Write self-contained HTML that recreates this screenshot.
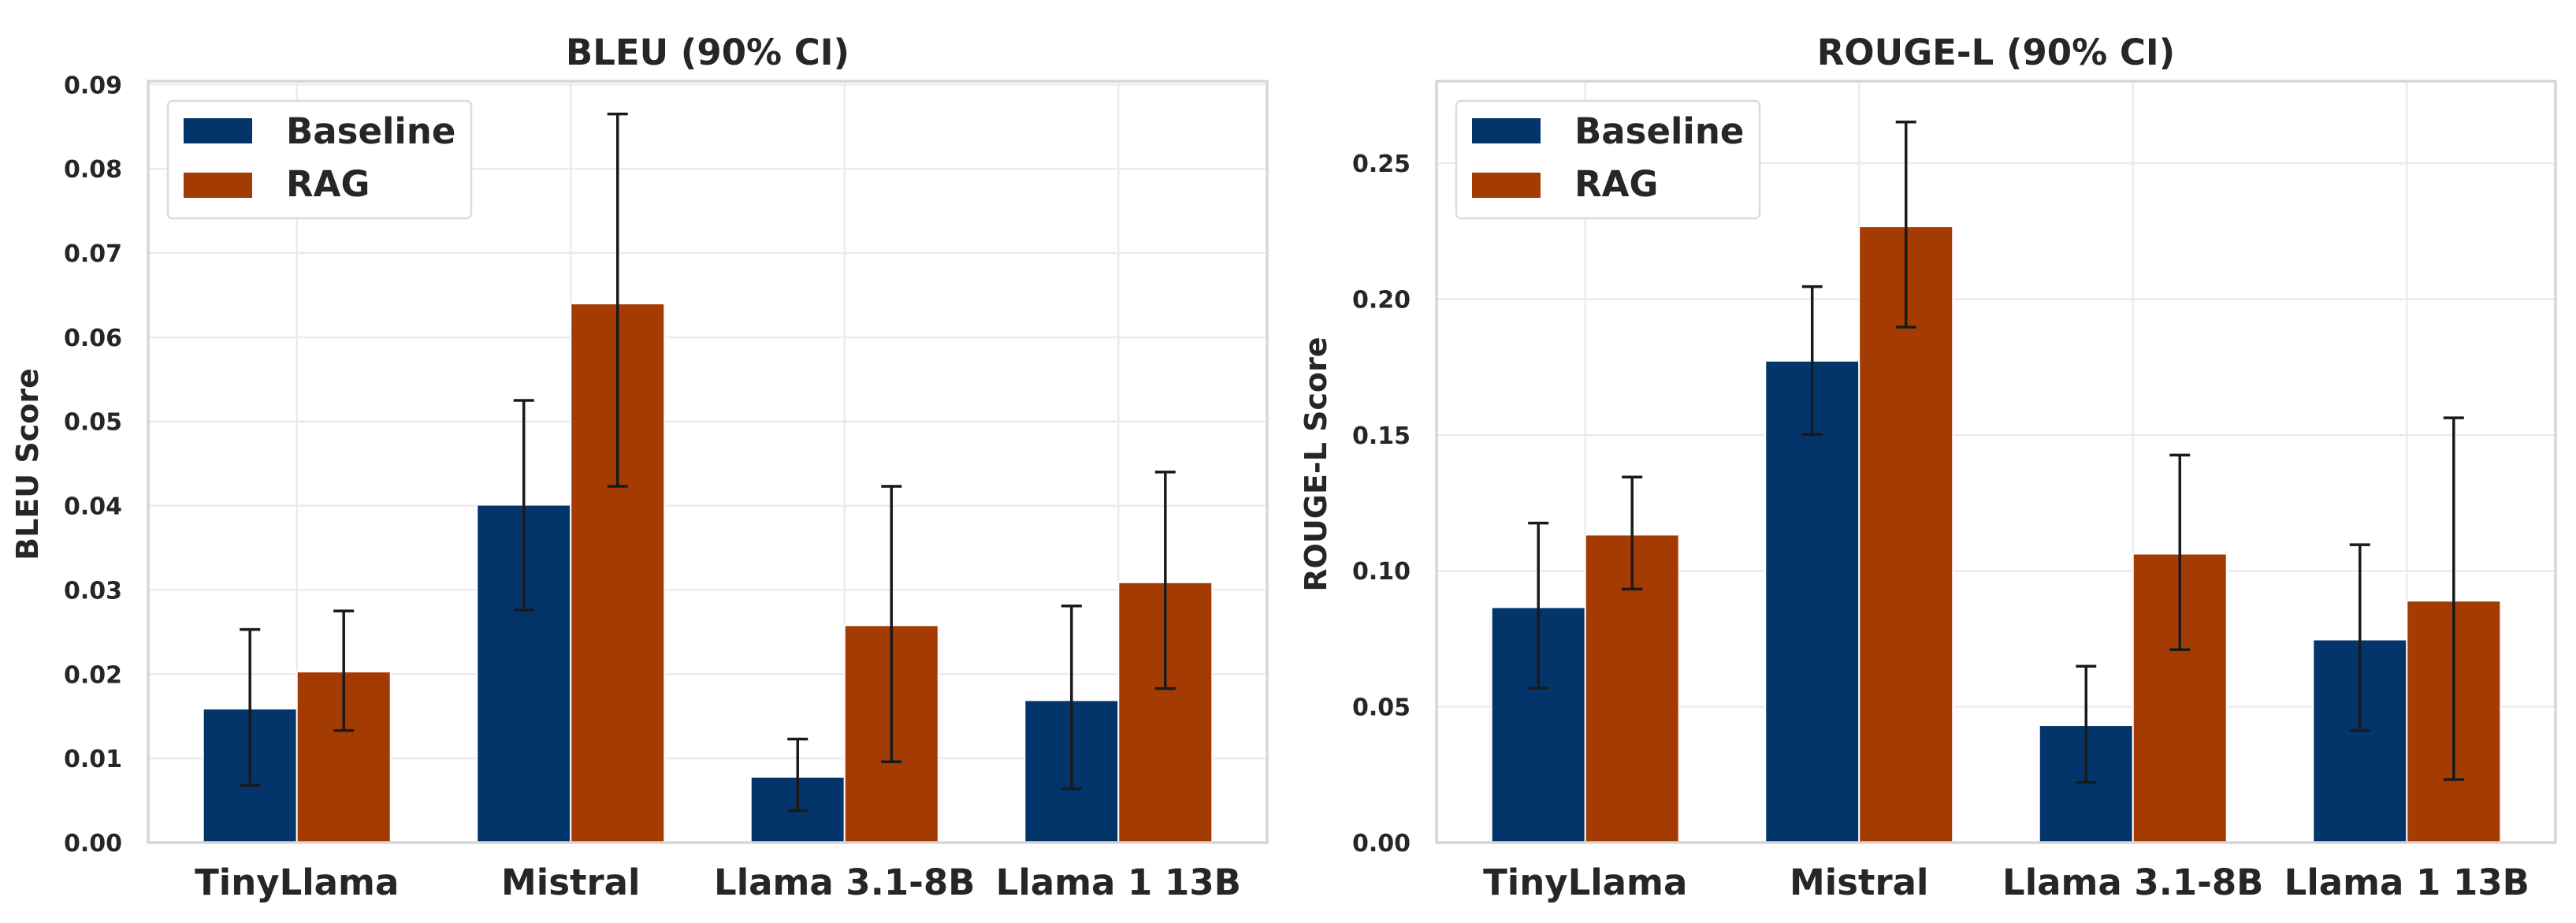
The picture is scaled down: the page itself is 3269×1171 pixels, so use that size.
<!DOCTYPE html>
<html><head><meta charset="utf-8"><style>
html,body{margin:0;padding:0;background:#fff;}
svg{display:block;font-family:"DejaVu Sans","Liberation Sans",sans-serif;font-weight:bold;}
</style></head><body>
<svg id="chart" width="3269" height="1171" viewBox="0 0 3269 1171" xmlns="http://www.w3.org/2000/svg"></svg>
<script>
const categories = ["TinyLlama","Mistral","Llama 3.1-8B","Llama 1 13B"];
const seriesNames = ["Baseline","RAG"];
const bleuBaseline = [0.0159,0.0401,0.0078,0.0169];
const bleuBaselineLo = [0.0068,0.0276,0.0038,0.0064];
const bleuBaselineHi = [0.0253,0.0525,0.0123,0.0281];
const bleuRag = [0.0203,0.0640,0.0258,0.0309];
const bleuRagLo = [0.0133,0.0423,0.0096,0.0183];
const bleuRagHi = [0.0275,0.0865,0.0423,0.0440];
const bleuTicks = ["0.00","0.01","0.02","0.03","0.04","0.05","0.06","0.07","0.08","0.09"];
const rougeBaseline = [0.0866,0.1773,0.0432,0.0747];
const rougeBaselineLo = [0.0569,0.1502,0.0221,0.0412];
const rougeBaselineHi = [0.1176,0.2046,0.0649,0.1096];
const rougeRag = [0.1133,0.2268,0.1063,0.0890];
const rougeRagLo = [0.0933,0.1897,0.0710,0.0232];
const rougeRagHi = [0.1345,0.2652,0.1426,0.1563];
const rougeTicks = ["0.00","0.05","0.10","0.15","0.20","0.25"];

const NS="http://www.w3.org/2000/svg";
const svg=document.getElementById('chart');
const COLORS=["#03346a","#a33b02"];
function mk(tag,attrs,parent){const e=document.createElementNS(NS,tag);for(const k in attrs)e.setAttribute(k,attrs[k]);(parent||svg).appendChild(e);return e;}

function panel(opt){
  const L=opt.left,R=opt.left+1420,T=103,B=1069;
  const g=mk('g',{});
  
  
  const xs=v=>L+(v+0.543)/4.086*(R-L);
  const ys=v=>B-v/opt.ymax*(B-T);
  opt.ticks.forEach(t=>{
    const y=ys(parseFloat(t));
    const gl=mk('line',{x1:L,x2:R,y1:y,y2:y,stroke:'#ebebeb','stroke-width':2.5},g);
    
    
    const tl=mk('text',{x:L-33,y:y+11,'text-anchor':'end','font-size':30,fill:'#262626'},g);
    tl.textContent=t;
    
    
  });
  categories.forEach((c,i)=>{
    const x=xs(i);
    const gl=mk('line',{x1:x,x2:x,y1:T,y2:B,stroke:'#ebebeb','stroke-width':2.5},g);
    
    
    const tl=mk('text',{x:x,y:1135,'text-anchor':'middle','font-size':45,fill:'#262626'},g);
    tl.textContent=c;
    
    
  });
  const bw=119;
  const series=[[opt.b,opt.bl,opt.bh],[opt.r,opt.rl,opt.rh]];
  series.forEach((s,si)=>{
    s[0].forEach((v,i)=>{
      const cx=xs(i)+(si===0?-bw/2:bw/2);
      const r=mk('rect',{x:cx-bw/2,y:ys(v),width:bw,height:B-ys(v),fill:COLORS[si],stroke:'#fff','stroke-width':2},g);
      
      
    });
  });
  series.forEach((s,si)=>{
    s[0].forEach((v,i)=>{
      const cx=xs(i)+(si===0?-bw/2:bw/2);
      const eg=mk('g',{stroke:'#1a1a1a','stroke-width':3.5},g);
      
      
      mk('line',{x1:cx,x2:cx,y1:ys(s[1][i]),y2:ys(s[2][i])},eg);
      mk('line',{x1:cx-13,x2:cx+13,y1:ys(s[1][i]),y2:ys(s[1][i])},eg);
      mk('line',{x1:cx-13,x2:cx+13,y1:ys(s[2][i]),y2:ys(s[2][i])},eg);
    });
  });
  const fr=mk('rect',{x:L,y:T,width:R-L,height:B-T,fill:'none',stroke:'#d6d6d6','stroke-width':3.5},g);
  
  
  const ti=mk('text',{x:(L+R)/2,y:82,'text-anchor':'middle','font-size':45,fill:'#262626'},g);
  ti.textContent=opt.title;
  
  
  const yl=mk('text',{x:0,y:0,'text-anchor':'middle','font-size':38,fill:'#262626',transform:`translate(${L-140},${(T+B)/2+3}) rotate(-90)`},g);
  yl.textContent=opt.ylabel;
  
  
  const lg=mk('g',{},g);
  
  
  mk('rect',{x:L+25,y:128,width:385,height:149,rx:6,fill:'#fff',stroke:'#dcdcdc','stroke-width':2.5},lg);
  seriesNames.forEach((n,si)=>{
    const e=mk('g',{},lg);
    
    
    mk('rect',{x:L+45,y:150+si*69,width:87,height:32,fill:COLORS[si]},e);
    const t=mk('text',{x:L+175,y:182+si*67,'font-size':45,fill:'#262626'},e);
    t.textContent=n;
  });
}
panel({name:'bleu-panel',left:188,ymax:0.0904,ticks:bleuTicks,title:'BLEU (90% CI)',ylabel:'BLEU Score',
  b:bleuBaseline,bl:bleuBaselineLo,bh:bleuBaselineHi,r:bleuRag,rl:bleuRagLo,rh:bleuRagHi});
panel({name:'rouge-panel',left:1823,ymax:0.2802,ticks:rougeTicks,title:'ROUGE-L (90% CI)',ylabel:'ROUGE-L Score',
  b:rougeBaseline,bl:rougeBaselineLo,bh:rougeBaselineHi,r:rougeRag,rl:rougeRagLo,rh:rougeRagHi});
</script>
</body></html>
